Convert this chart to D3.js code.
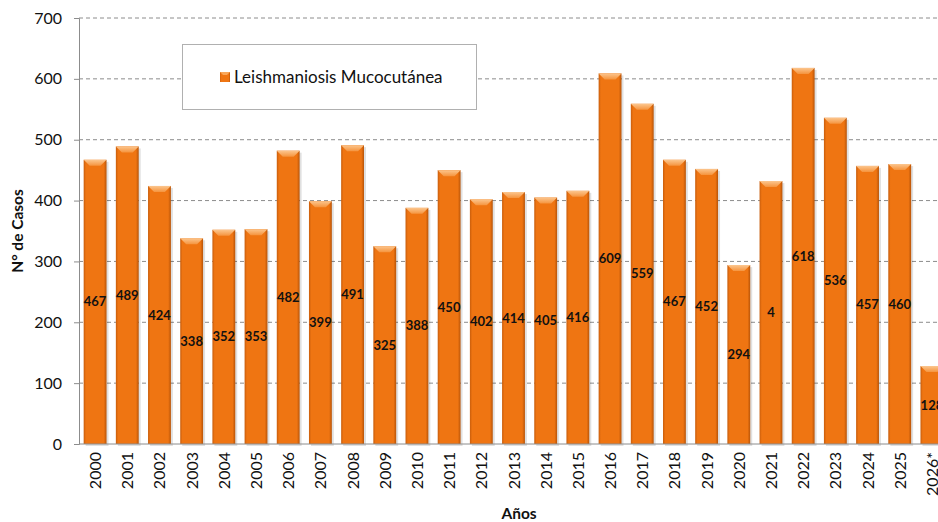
<!DOCTYPE html>
<html>
<head>
<meta charset="utf-8">
<script src="https://cdn.jsdelivr.net/npm/d3@7"></script>
<style>
  body { margin: 0; background: #fff; }
  svg { display: block; font-family: Lato, 'Open Sans', sans-serif; }
</style>
</head>
<body>
<div id="chart"></div>
<script>
// data
var years = ['2000', '2001', '2002', '2003', '2004', '2005', '2006', '2007', '2008', '2009',
  '2010', '2011', '2012', '2013', '2014', '2015', '2016', '2017', '2018', '2019',
  '2020', '2021', '2022', '2023', '2024', '2025', '2026*'];
var cases = [467, 489, 424, 338, 352, 353, 482, 399, 491, 325,
  388, 450, 402, 414, 405, 416, 609, 559, 467, 452,
  294, 432, 618, 536, 457, 460, 128];
var labels = ['467', '489', '424', '338', '352', '353', '482', '399', '491', '325',
  '388', '450', '402', '414', '405', '416', '609', '559', '467', '452',
  '294', '4', '618', '536', '457', '460', '128'];
var yTicks = [0, 100, 200, 300, 400, 500, 600, 700];
var seriesName = 'Leishmaniosis Mucocutánea';

var width = 938,
  height = 522,
  margin = {top: 18, left: 79, bottom: 78},
  plotW = 869,
  plotH = height - margin.top - margin.bottom;

var svg = d3.select('#chart').append('svg')
  .attr('width', width)
  .attr('height', height);

var defs = svg.append('defs');

var barGrad = defs.append('linearGradient')
  .attr('id', 'bar-grad')
  .attr('x1', '0%').attr('x2', '100%')
  .attr('y1', '0%').attr('y2', '0%');
barGrad.append('stop').attr('offset', '0%').attr('stop-color', '#c85d0c');
barGrad.append('stop').attr('offset', '10%').attr('stop-color', '#ef7512');
barGrad.append('stop').attr('offset', '88%').attr('stop-color', '#ef7512');
barGrad.append('stop').attr('offset', '100%').attr('stop-color', '#b85408');

var topGrad = defs.append('linearGradient')
  .attr('id', 'top-grad')
  .attr('x1', '0%').attr('x2', '0%')
  .attr('y1', '0%').attr('y2', '100%');
topGrad.append('stop').attr('offset', '0%').attr('stop-color', '#fcc68e');
topGrad.append('stop').attr('offset', '100%').attr('stop-color', '#f5943e');

var x = d3.scaleBand()
  .domain(years)
  .range([margin.left, margin.left + plotW])
  .paddingInner(0.29)
  .paddingOuter(0.145);

var y = d3.scaleLinear()
  .domain([0, 700])
  .range([margin.top + plotH, margin.top]);

// gridlines
svg.append('g')
  .selectAll('line')
  .data(yTicks.slice(1))
  .enter()
  .append('line')
    .attr('x1', margin.left)
    .attr('x2', width)
    .attr('y1', function(d) { return y(d); })
    .attr('y2', function(d) { return y(d); })
    .attr('stroke', '#8c8c8c')
    .attr('stroke-dasharray', '4,3')
    .attr('stroke-width', 1);

// legend box
var legend = svg.append('g');
legend.append('rect')
  .attr('x', 182.5).attr('y', 44.5)
  .attr('width', 294).attr('height', 65)
  .attr('fill', '#fff')
  .attr('stroke', '#b0b0b0');
legend.append('rect')
  .attr('x', 220).attr('y', 72)
  .attr('width', 10).attr('height', 10)
  .attr('fill', 'url(#bar-grad)');
legend.append('path')
  .attr('d', 'M220,72L230,72L227,75L223,75Z')
  .attr('fill', '#f9a75a');
legend.append('text')
  .attr('x', 234).attr('y', 83)
  .attr('font-size', '17px')
  .attr('fill', '#111')
  .text(seriesName);

// bars
var bars = svg.append('g')
  .selectAll('g')
  .data(years)
  .enter()
  .append('g');

bars.append('rect')
  .attr('x', function(d) { return x(d) + 2; })
  .attr('y', function(d, i) { return y(cases[i]) + 2; })
  .attr('width', x.bandwidth())
  .attr('height', function(d, i) { return y(0) - y(cases[i]); })
  .attr('fill', '#000')
  .attr('opacity', 0.12);

bars.append('rect')
  .attr('x', function(d) { return x(d); })
  .attr('y', function(d, i) { return y(cases[i]); })
  .attr('width', x.bandwidth())
  .attr('height', function(d, i) { return y(0) - y(cases[i]); })
  .attr('fill', 'url(#bar-grad)');

bars.append('path')
  .attr('d', function(d, i) {
    var x0 = x(d), x1 = x(d) + x.bandwidth(), t = y(cases[i]), b = 6;
    return 'M' + x0 + ',' + t + 'L' + x1 + ',' + t + 'L' + (x1 - b) + ',' + (t + b) +
      'L' + (x0 + b) + ',' + (t + b) + 'Z';
  })
  .attr('fill', 'url(#top-grad)');

// value labels
bars.append('text')
  .attr('x', function(d) { return x(d) + x.bandwidth() / 2; })
  .attr('y', function(d, i) { return (y(cases[i]) + y(0)) / 2; })
  .attr('dy', '0.35em')
  .attr('text-anchor', 'middle')
  .attr('font-size', '13px')
  .attr('font-weight', 'bold')
  .attr('fill', '#111')
  .text(function(d, i) { return labels[i]; });

// y axis
var yAxis = svg.append('g')
  .attr('transform', 'translate(' + margin.left + ',0)')
  .call(d3.axisLeft(y).tickValues(yTicks).tickSize(5).tickPadding(12));
yAxis.select('.domain').attr('stroke', '#8c8c8c');
yAxis.selectAll('.tick line').attr('stroke', '#8c8c8c');
yAxis.selectAll('.tick text')
  .attr('font-size', '16px')
  .attr('font-family', 'Lato, sans-serif')
  .attr('fill', '#111');

// x axis baseline
svg.append('line')
  .attr('x1', margin.left).attr('x2', width)
  .attr('y1', y(0)).attr('y2', y(0))
  .attr('stroke', '#8c8c8c');

// x tick labels
svg.append('g')
  .selectAll('text')
  .data(years)
  .enter()
  .append('text')
    .attr('transform', function(d) {
      return 'translate(' + (x(d) + x.bandwidth() / 2 + 6) + ',' + (y(0) + 8) + ') rotate(-90)';
    })
    .attr('text-anchor', 'end')
    .attr('font-size', '16px')
    .attr('fill', '#111')
    .text(function(d) { return d; });

// axis titles
svg.append('text')
  .attr('transform', 'translate(23,' + (margin.top + plotH / 2) + ') rotate(-90)')
  .attr('text-anchor', 'middle')
  .attr('font-size', '15.5px')
  .attr('font-weight', 'bold')
  .attr('fill', '#111')
  .text('N° de Casos');

svg.append('text')
  .attr('x', 519)
  .attr('y', 519)
  .attr('text-anchor', 'middle')
  .attr('font-size', '15.5px')
  .attr('font-weight', 'bold')
  .attr('fill', '#111')
  .text('Años');
</script>
</body>
</html>
